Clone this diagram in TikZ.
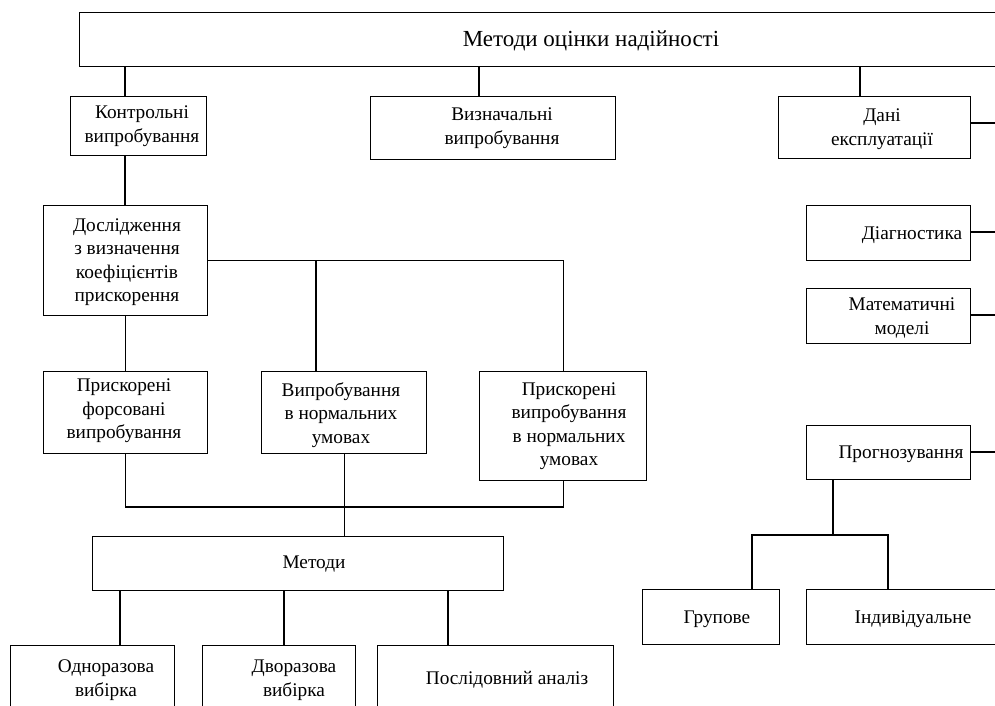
\documentclass[tikz,border=0pt]{standalone}
\usepackage{fontspec}
\setmainfont{Liberation Serif}
\begin{document}
\begin{tikzpicture}[x=1pt,y=-1pt,
  box/.style={draw=black, line width=1.2pt, rectangle, inner sep=0pt, anchor=north west},
  txt/.style={font=\fontsize{19.3}{23.5}\selectfont, align=center, inner sep=0pt, text=black},
  ttl/.style={font=\fontsize{23}{27}\selectfont, inner sep=0pt, text=black},
  conn/.style={draw=black, line width=1.1pt}]
\useasboundingbox (0,0) rectangle (995,706);
\clip (0,0) rectangle (995,706);
% helper columns
\coordinate (x125) at (125,0);
\coordinate (x479) at (479,0);
\coordinate (x860) at (860,0);
\coordinate (x316) at (316,0);
\coordinate (x120) at (120,0);
\coordinate (x284) at (284,0);
\coordinate (x448) at (448,0);
\coordinate (x752) at (752,0);
\coordinate (x888) at (888,0);
\coordinate (bus) at (343,507);
\coordinate (jn) at (833,535);
\coordinate (r1) at (1000,123);
\coordinate (r2) at (1000,232);
\coordinate (r3) at (1000,315);
\coordinate (r4) at (1000,452);
% boxes
\node[box, minimum width=926pt, minimum height=54pt] (top) at (79,12) {};
\node[box, minimum width=136pt, minimum height=59pt] (kontr) at (70,96) {};
\node[box, minimum width=245pt, minimum height=63pt] (vyzn) at (370,96) {};
\node[box, minimum width=192pt, minimum height=62pt] (dani) at (778,96) {};
\node[box, minimum width=164pt, minimum height=110pt] (dosl) at (43,205) {};
\node[box, minimum width=164pt, minimum height=82pt] (prfors) at (43,371) {};
\node[box, minimum width=165pt, minimum height=82pt] (vypnorm) at (261,371) {};
\node[box, minimum width=167pt, minimum height=109pt] (prvyp) at (479,371) {};
\node[box, minimum width=411pt, minimum height=54pt] (metody) at (92,536) {};
\node[box, minimum width=164pt, minimum height=67pt] (odn) at (10,645) {};
\node[box, minimum width=153pt, minimum height=67pt] (dvor) at (202,645) {};
\node[box, minimum width=236pt, minimum height=67pt] (posl) at (377,645) {};
\node[box, minimum width=164pt, minimum height=55pt] (diag) at (806,205) {};
\node[box, minimum width=164pt, minimum height=55pt] (mat) at (806,288) {};
\node[box, minimum width=164pt, minimum height=54pt] (progn) at (806,425) {};
\node[box, minimum width=137pt, minimum height=55pt] (grup) at (642,589) {};
\node[box, minimum width=214pt, minimum height=55pt] (indiv) at (806,589) {};
% texts
\node[ttl] (ttop) at (591,41) {Методи оцінки надійності};
\node[txt] (tkontr) at (142,126) {Контрольні\\випробування};
\node[txt] (tvyzn) at (502,128) {Визначальні\\випробування};
\node[txt] (tdani) at (882,129) {Дані\\експлуатації};
\node[txt] (tdosl) at (127,262) {Дослідження\\з визначення\\коефіцієнтів\\прискорення};
\node[txt] (tprfors) at (124,411) {Прискорені\\форсовані\\випробування};
\node[txt] (tvypnorm) at (341,415) {Випробування\\в нормальних\\умовах};
\node[txt] (tprvyp) at (569,426) {Прискорені\\випробування\\в нормальних\\умовах};
\node[txt] (tmetody) at (314,564) {Методи};
\node[txt] (todn) at (106,680) {Одноразова\\вибірка};
\node[txt] (tdvor) at (294,680) {Дворазова\\вибірка};
\node[txt] (tposl) at (507,680) {Послідовний аналіз};
\node[txt] (tdiag) at (912,235) {Діагностика};
\node[txt] (tmat) at (902,318) {Математичні\\моделі};
\node[txt] (tprogn) at (901,454) {Прогнозування};
\node[txt] (tgrup) at (717,619) {Групове};
\node[txt] (tindiv) at (913,619) {Індивідуальне};
% connectors
\draw[conn] (top.south -| x125) -- (kontr.north -| x125);
\draw[conn] (top.south -| x479) -- (vyzn.north -| x479);
\draw[conn] (top.south -| x860) -- (dani.north -| x860);
\draw[conn] (dani.east |- r1) -- (r1);
\draw[conn] (kontr.south -| x125) -- (dosl.north -| x125);
\draw[conn] (dosl.east) -| (prvyp.north);
\draw[conn] (dosl.east -| x316) -- (vypnorm.north -| x316);
\draw[conn] (dosl.south) -- (prfors.north);
\draw[conn] (prfors.south) |- (bus) -| (prvyp.south);
\draw[conn] (vypnorm.south) -- (vypnorm.south |- metody.north);
\draw[conn] (metody.south -| x120) -- (odn.north -| x120);
\draw[conn] (metody.south -| x284) -- (dvor.north -| x284);
\draw[conn] (metody.south -| x448) -- (posl.north -| x448);
\draw[conn] (diag.east |- r2) -- (r2);
\draw[conn] (mat.east |- r3) -- (r3);
\draw[conn] (progn.east |- r4) -- (r4);
\draw[conn] (progn.south -| jn) -- (jn);
\draw[conn] (grup.north -| x752) |- (jn) -| (indiv.north -| x888);
\end{tikzpicture}
\end{document}
